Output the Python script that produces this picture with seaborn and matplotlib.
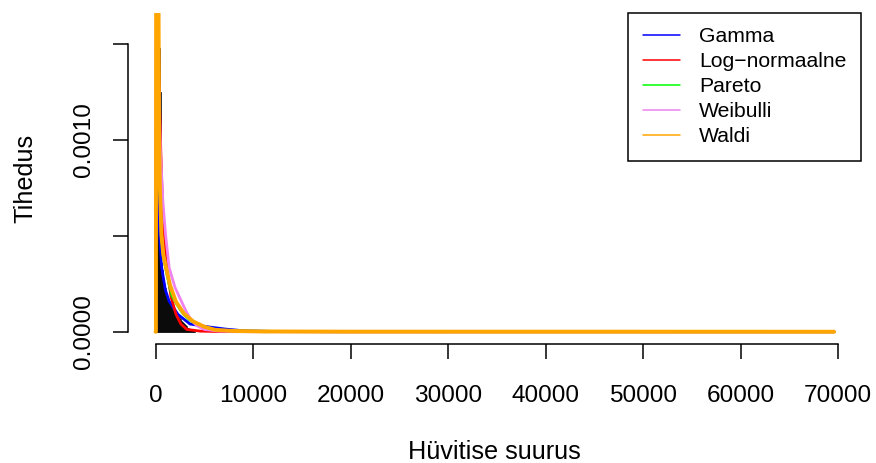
import numpy as np
import pandas as pd
import matplotlib
matplotlib.use("Agg")
import matplotlib.pyplot as plt
from matplotlib.lines import Line2D
import seaborn as sns

# Histogram of benefit sizes: density per 100-unit bin, starting at 0
bin_width = 100
hist_density = [
    0.00090, 0.00120, 0.00100, 0.00160, 0.00148, 0.00125, 0.00036, 0.00032, 0.00028, 0.00025,
    0.00023, 0.00020, 0.000185, 0.00017, 0.000155, 0.000145, 0.00013, 0.00012, 0.00011, 0.00010,
    0.000095, 0.000088, 0.00008, 0.000075, 0.00007, 0.000064, 0.000058, 0.000052, 0.000046, 0.00004,
    0.000034, 0.000028, 0.000022, 0.000018, 0.000014, 0.000011, 0.000009, 0.000007, 0.000006, 0.000005,
]
x_max = 69590  # largest benefit in the sample

# Fitted densities
gamma_x = [0, 30, 100, 200, 300, 430, 615, 1000, 1385, 2300, 3540, 5590, 7130, 9000, 12000, 18000, x_max]
gamma_y = [0.012, 0.0030, 0.0015, 0.00090, 0.00065, 0.00050, 0.00034, 0.00022, 0.00016, 0.00009,
           0.00004, 0.000024, 0.000014, 0.000005, 0.0000015, 0, 0]

lnorm_x = [0, 40, 100, 200, 280, 350, 460, 545, 700, 905, 1180, 1600, 2100, 2600, 3200, 4600, 7000, x_max]
lnorm_y = [0, 0.0009, 0.0022, 0.0024, 0.0017, 0.0013, 0.0011, 0.00093, 0.00068, 0.000505, 0.00032,
           0.00018, 0.00009, 0.00004, 0.000012, 0.000003, 0.0000004, 0]

pareto_x = [0, 200, 330, 450, 600, 800, 1080, 1400, 1700, 2100, 2600, 2900, 3500, 3850, 5000, 6100,
            8000, 15000, x_max]
pareto_y = [0.0019, 0.0017, 0.00110, 0.00074, 0.00050, 0.000395, 0.00032, 0.000245, 0.000185, 0.00015,
            0.00011, 0.00009, 0.000062, 0.00005, 0.000024, 0.000009, 0.0000035, 0.0000005, 0]

weibull_x = [0, 50, 150, 300, 500, 750, 1030, 1400, 2000, 2640, 3100, 3600, 4200, 5000, 6500, 9000, 15000, x_max]
weibull_y = [0.0060, 0.0029, 0.0019, 0.00135, 0.00095, 0.00068, 0.000505, 0.000333, 0.00023, 0.00016,
             0.00011, 0.000065, 0.000032, 0.000012, 0.000003, 0.0000005, 0, 0]

wald_x = [0, 40, 80, 150, 310, 360, 450, 600, 800, 1080, 1500, 2080, 2900, 3850, 5000, 6100, 8000, 11000, 20000, x_max]
wald_y = [0, 0, 0.0030, 0.0032, 0.00167, 0.00105, 0.00075, 0.000505, 0.00040, 0.000333, 0.00024,
          0.000158, 0.000095, 0.000054, 0.000026, 0.000010, 0.000004, 0.0000015, 0.0000003, 0]

curve_names = ["Gamma", "Log\u2212normaalne", "Pareto", "Weibulli", "Waldi"]
curve_colors = ["#0000FF", "#FF0000", "#00FF00", "#EE82EE", "#FFA500"]
curve_widths = [2.0, 2.0, 2.0, 2.0, 2.8]

sns.set_style("white")
plt.rcParams["font.family"] = ["Liberation Sans", "DejaVu Sans"]
plt.rcParams.update({"text.color": "black", "axes.labelcolor": "black",
                     "xtick.color": "black", "ytick.color": "black"})

fig = plt.figure(figsize=(8.76, 4.63), dpi=100)
ax = fig.add_axes([128.4 / 876, 1 - 344 / 463, (861.2 - 128.4) / 876, (344 - 12.5) / 463])

centers = [bin_width * (i + 0.5) for i in range(len(hist_density))]
hist_df = pd.DataFrame({"x": centers, "w": hist_density})
sns.histplot(data=hist_df, x="x", weights="w", binwidth=bin_width,
             binrange=(0, bin_width * len(hist_density)), stat="count",
             color="black", edgecolor="black", linewidth=0.4, alpha=1, ax=ax)

curves = [(gamma_x, gamma_y), (lnorm_x, lnorm_y), (pareto_x, pareto_y),
          (weibull_x, weibull_y), (wald_x, wald_y)]
for (cx, cy), col, lw in zip(curves, curve_colors, curve_widths):
    sns.lineplot(x=cx, y=cy, color=col, linewidth=lw, ax=ax, sort=False,
                 estimator=None, legend=False)

y_top = 0.0016
ax.set_xlim(-0.04 * x_max, 1.04 * x_max)
ax.set_ylim(-0.04 * y_top, 1.04 * y_top)

# R-like axes: spines only between the outer ticks
for side in ["top", "right"]:
    ax.spines[side].set_visible(False)
ax.spines["bottom"].set_bounds(0, 70000)
ax.spines["left"].set_bounds(0, 0.0015)
for side in ["bottom", "left"]:
    ax.spines[side].set_linewidth(1.1)
    ax.spines[side].set_color("black")

ax.set_xticks(range(0, 70001, 10000))
ax.set_xticklabels([str(v) for v in range(0, 70001, 10000)])
ax.set_yticks([0, 0.0005, 0.0010, 0.0015])
ax.set_yticklabels(["0.0000", "", "0.0010", ""], rotation=90, va="center")
ax.tick_params(axis="x", direction="out", length=10.8, width=1.1, pad=18.6,
               labelsize=17.6, colors="black", bottom=True)
ax.tick_params(axis="y", direction="out", length=10.8, width=1.1, pad=13.5,
               labelsize=17.6, colors="black", left=True)

ax.set_xlabel("Hüvitise suurus", fontsize=18.2, labelpad=24)
ax.set_ylabel("Tihedus", fontsize=18.2, labelpad=25.5)

handles = [Line2D([], [], color=c, linewidth=1.1) for c in curve_colors]
leg = ax.legend(handles, curve_names, loc="upper right", borderaxespad=0,
                fontsize=15.2, frameon=True, fancybox=False, framealpha=1,
                edgecolor="black", borderpad=0.7, labelspacing=0.28,
                handlelength=1.78, handletextpad=0.88)
leg.get_frame().set_linewidth(1.1)

ax.grid(False)
fig.savefig("out.png", dpi=100, facecolor="white")
